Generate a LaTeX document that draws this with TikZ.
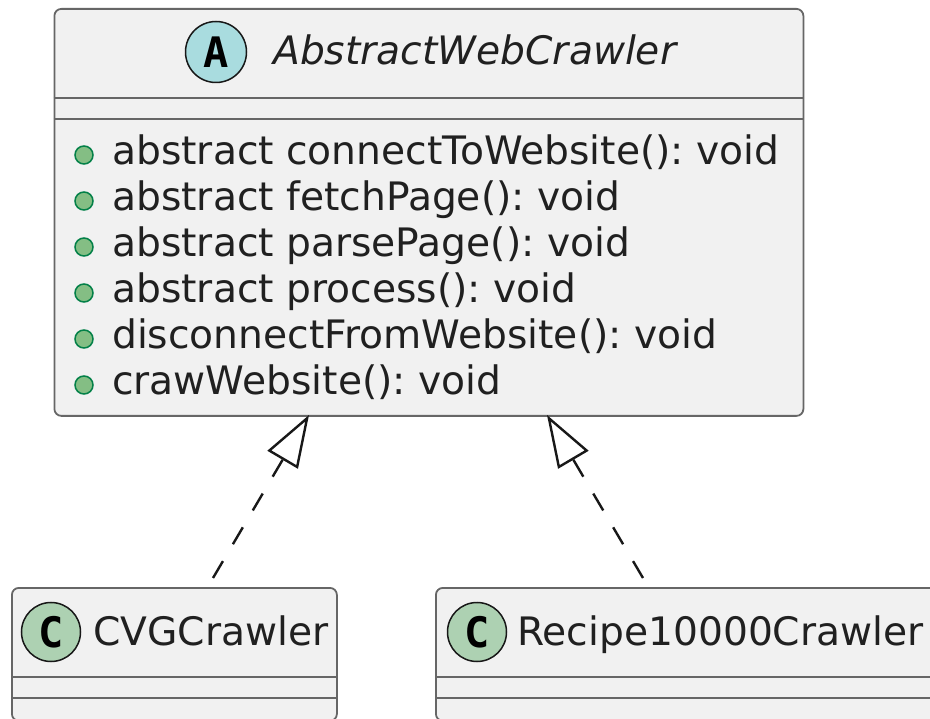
\documentclass[tikz,border=0pt]{standalone}
\usepackage{fontspec}
\setmainfont{DejaVu Sans}
\newfontfamily\circfont{DejaVu Sans Mono}
\usetikzlibrary{arrows.meta}
\definecolor{boxbg}{HTML}{F1F1F1}
\definecolor{boxline}{HTML}{666666}
\definecolor{darkline}{HTML}{181818}
\definecolor{textc}{HTML}{202020}
\definecolor{absc}{HTML}{A9DCDF}
\definecolor{clsc}{HTML}{ADD1B2}
\definecolor{bulf}{HTML}{84BE84}
\definecolor{bulb}{HTML}{038048}
\frenchspacing
\begin{document}
\begin{tikzpicture}[x=1pt,y=-1pt,
  classbox/.style={draw=boxline, fill=boxbg, line width=1.8pt, rounded corners=7pt, inner sep=0pt, anchor=north west},
  sepline/.style={draw=boxline, line width=1.8pt},
  spot/.style={circle, draw=darkline, line width=1.5pt, minimum size=61pt, inner sep=0pt, font=\circfont\bfseries\fontsize{42}{42}\selectfont},
  bigtext/.style={font=\fontsize{39.2}{46}\selectfont, text=textc, anchor=base west, inner sep=0pt},
  bullet/.style={circle, fill=bulf, draw=bulb, line width=1.5pt, minimum size=18pt, inner sep=0pt},
  impl/.style={draw=darkline, line width=2.4pt, dash pattern=on 19.6pt off 19.6pt,
    -{Triangle[length=52pt, width=35pt, fill=white, line width=2.4pt]}}
]
\useasboundingbox (0,0) rectangle (930,719);
\fill[white] (0,0) rectangle (930,719);

% abstract class
\node[classbox, minimum width=749pt, minimum height=407pt] (abs) at (53.5,8) {};
\draw[sepline] (53.5,98) -- (802.5,98);
\draw[sepline] (53.5,119) -- (802.5,119);
\node[spot, fill=absc] (absic) at (216,52) {A};
\node[bigtext, font=\fontsize{39.2}{46}\selectfont\itshape] (absname) at (273,65) {AbstractWebCrawler};

\node[bullet] (b1) at (84,155) {};
\node[bullet] (b2) at (84,201) {};
\node[bullet] (b3) at (84,247) {};
\node[bullet] (b4) at (84,293) {};
\node[bullet] (b5) at (84,339) {};
\node[bullet] (b6) at (84,385) {};
\node[bigtext] (m1) at (112,165) {abstract connectToWebsite(): void};
\node[bigtext] (m2) at (112,211) {abstract fetchPage(): void};
\node[bigtext] (m3) at (112,257) {abstract parsePage(): void};
\node[bigtext] (m4) at (112,303) {abstract process(): void};
\node[bigtext] (m5) at (112,349) {disconnectFromWebsite(): void};
\node[bigtext] (m6) at (112,395) {crawWebsite(): void};

% CVGCrawler
\node[classbox, minimum width=325pt, minimum height=133pt] (cvg) at (11,587) {};
\draw[sepline] (11,677) -- (336,677);
\draw[sepline] (11,698) -- (336,698);
\node[spot, fill=clsc, minimum size=59pt] (cvgic) at (51,632) {C};
\node[bigtext] (cvgname) at (93,645) {CVGCrawler};

% Recipe10000Crawler
\node[classbox, minimum width=520pt, minimum height=133pt] (rec) at (435,587) {};
\draw[sepline] (435,677) -- (955,677);
\draw[sepline] (435,698) -- (955,698);
\node[spot, fill=clsc, minimum size=59pt] (recic) at (477,632) {C};
\node[bigtext] (recname) at (517,645) {Recipe10000Crawler};

% connectors
\coordinate (c1) at (213,578);
\coordinate (t1) at (309,415);
\coordinate (c2) at (643,578);
\coordinate (t2) at (547,415);
\draw[impl] (c1) -- (t1);
\draw[impl] (c2) -- (t2);
\end{tikzpicture}
\end{document}
